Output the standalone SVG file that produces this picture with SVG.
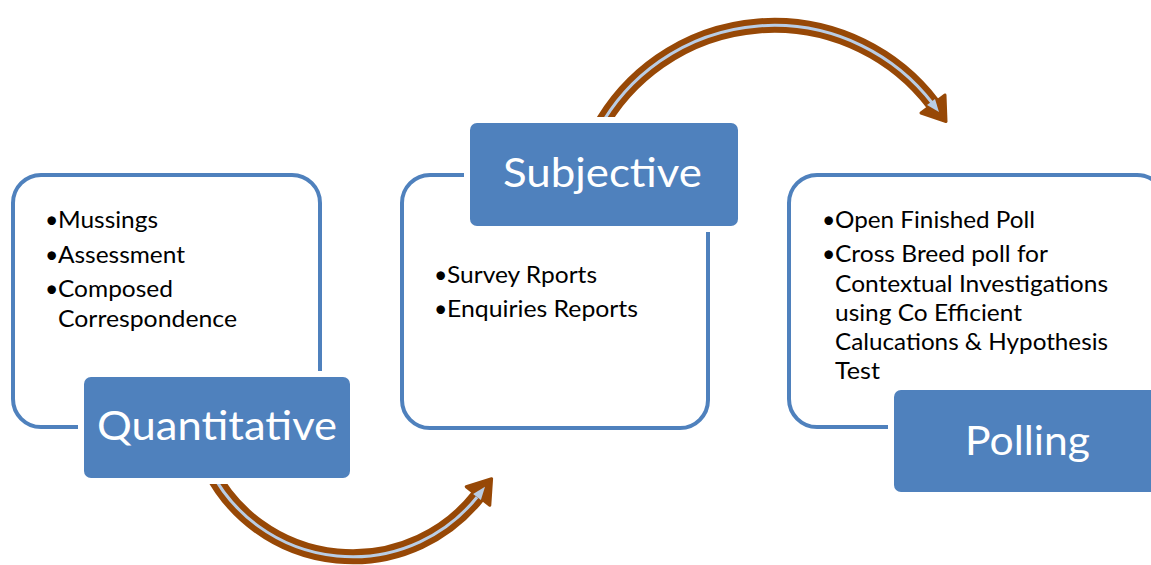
<svg xmlns="http://www.w3.org/2000/svg" width="1151" height="565" viewBox="0 0 1151 565">
<style>
.frame{fill:#FFFFFF;stroke:#4F81BD;stroke-width:4}
.label{fill:#4F81BD;stroke:#FFFFFF;stroke-width:12;paint-order:stroke}
.lt{font-family:Lato,"Open Sans","Liberation Sans",sans-serif;font-size:41px;fill:#FFFFFF}
.bt{font-family:Lato,"Open Sans","Liberation Sans",sans-serif;font-size:23px;fill:#000000}
.band{fill:none;stroke:#974806;stroke-width:15}
.stripe{fill:none;stroke:#B9CDE5;stroke-width:3}
.head{fill:#974806;stroke:#974806;stroke-width:3;stroke-linejoin:round}
.headin{fill:#B9CDE5}
</style>
<rect width="1151" height="565" fill="#FFFFFF"/>
<g id="connectors">
  <g id="arrow-quantitative-subjective">
    <path class="band" d="M 210.2 470 A 160 160 0 0 0 478 496"/>
    <path class="stripe" d="M 210.2 470 A 160 160 0 0 0 478 496"/>
    <polygon class="head" points="491.6,478.7 489.8,505.3 466.2,486.7"/>
    <polygon class="headin" points="485,486.8 480.9,500.1 473.1,493.9"/>
  </g>
  <g id="arrow-subjective-polling">
    <path class="band" d="M 598.2 130 A 200 200 0 0 1 933 104"/>
    <path class="stripe" d="M 598.2 130 A 200 200 0 0 1 933 104"/>
    <polygon class="head" points="946,121.5 945,95 921,113"/>
    <polygon class="headin" points="939,112 935,99 927,105"/>
  </g>
</g>
<g id="node-quantitative">
  <rect class="frame" x="13" y="175" width="307" height="252" rx="28"/>
  <text class="bt" x="45" y="228">•</text>
  <text class="bt" x="58" y="228" textLength="100" lengthAdjust="spacingAndGlyphs">Mussings</text>
  <text class="bt" x="45" y="263">•</text>
  <text class="bt" x="58" y="263" textLength="127" lengthAdjust="spacingAndGlyphs">Assessment</text>
  <text class="bt" x="45" y="297">•</text>
  <text class="bt" x="58" y="297" textLength="115" lengthAdjust="spacingAndGlyphs">Composed</text>
  <text class="bt" x="58" y="327" textLength="179" lengthAdjust="spacingAndGlyphs">Correspondence</text>
  <rect class="label" x="84" y="377" width="266" height="101" rx="7"/>
  <text class="lt" x="97" y="440" textLength="240" lengthAdjust="spacingAndGlyphs">Quantitative</text>
</g>
<g id="node-subjective">
  <rect class="frame" x="402" y="175" width="306" height="253" rx="28"/>
  <text class="bt" x="434" y="283">•</text>
  <text class="bt" x="447" y="283" textLength="150" lengthAdjust="spacingAndGlyphs">Survey Rports</text>
  <text class="bt" x="434" y="317">•</text>
  <text class="bt" x="447" y="317" textLength="191" lengthAdjust="spacingAndGlyphs">Enquiries Reports</text>
  <rect class="label" x="470" y="123" width="268" height="103" rx="7"/>
  <text class="lt" x="503" y="187" textLength="199" lengthAdjust="spacingAndGlyphs">Subjective</text>
</g>
<g id="node-polling">
  <rect class="frame" x="789" y="175" width="376" height="252" rx="28"/>
  <text class="bt" x="822" y="228">•</text>
  <text class="bt" x="835" y="228" textLength="200" lengthAdjust="spacingAndGlyphs">Open Finished Poll</text>
  <text class="bt" x="822" y="262">•</text>
  <text class="bt" x="835" y="262" textLength="213" lengthAdjust="spacingAndGlyphs">Cross Breed poll for</text>
  <text class="bt" x="835" y="292" textLength="273" lengthAdjust="spacingAndGlyphs">Contextual Investigations</text>
  <text class="bt" x="835" y="321" textLength="187" lengthAdjust="spacingAndGlyphs">using Co Efficient</text>
  <text class="bt" x="835" y="350" textLength="273" lengthAdjust="spacingAndGlyphs">Calucations &amp; Hypothesis</text>
  <text class="bt" x="835" y="379" textLength="45" lengthAdjust="spacingAndGlyphs">Test</text>
  <rect class="label" x="894" y="390" width="268" height="102" rx="7"/>
  <text class="lt" x="965" y="455" textLength="125" lengthAdjust="spacingAndGlyphs">Polling</text>
</g>
</svg>
